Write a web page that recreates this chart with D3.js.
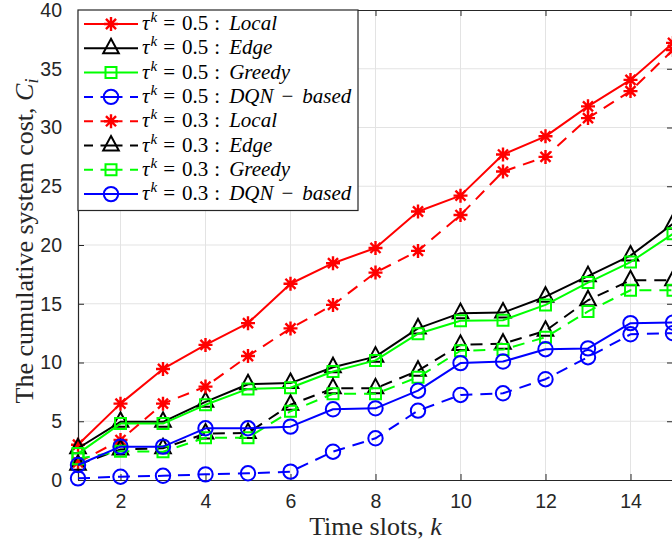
<!DOCTYPE html>
<html>
<head>
<meta charset="utf-8">
<script src="https://cdn.jsdelivr.net/npm/d3@7"></script>
<style>
  html, body { margin: 0; padding: 0; background: #fff; }
  svg { display: block; }
</style>
</head>
<body>
<svg id="chart" width="672" height="545"></svg>
<script>
// Time slots and cumulative system cost per scheme
const slots = [1, 2, 3, 4, 5, 6, 7, 8, 9, 10, 11, 12, 13, 14, 15];

const local05  = [3.0, 6.5, 9.45, 11.5, 13.35, 16.7, 18.45, 19.75, 22.85, 24.2, 27.7, 29.25, 31.8, 34.05, 37.2];
const edge05   = [2.7, 4.95, 4.95, 6.65, 8.15, 8.25, 9.6, 10.5, 12.9, 14.2, 14.25, 15.6, 17.35, 19.1, 21.8];
const greedy05 = [2.25, 4.8, 4.8, 6.4, 7.75, 7.85, 9.23, 10.18, 12.45, 13.55, 13.6, 14.9, 16.8, 18.55, 20.95];
const dqn05    = [0.14, 0.28, 0.36, 0.48, 0.57, 0.71, 2.41, 3.55, 5.9, 7.24, 7.38, 8.58, 10.45, 12.4, 12.5];
const local03  = [1.5, 3.4, 6.5, 7.95, 10.55, 12.9, 14.9, 17.65, 19.5, 22.55, 26.25, 27.5, 30.8, 33.1, 36.6];
const edge03   = [1.3, 2.6, 2.7, 3.95, 4.0, 6.4, 7.8, 7.8, 9.3, 11.5, 11.6, 12.7, 15.3, 17.0, 17.0];
const greedy03 = [1.8, 2.45, 2.4, 3.6, 3.6, 5.85, 7.33, 7.33, 8.75, 11.0, 11.1, 12.15, 14.35, 16.15, 16.15];
const dqn03    = [1.28, 2.84, 2.84, 4.4, 4.4, 4.54, 6.02, 6.1, 7.6, 9.95, 10.08, 11.13, 11.2, 13.35, 13.4];

const tauValues = ["0.5", "0.5", "0.5", "0.5", "0.3", "0.3", "0.3", "0.3"];
const schemeNames = ["Local", "Edge", "Greedy", "DQN-based", "Local", "Edge", "Greedy", "DQN-based"];

const xTicks = [2, 4, 6, 8, 10, 12, 14];
const yTicks = [0, 5, 10, 15, 20, 25, 30, 35, 40];

// Series in drawing order (later ones sit on top)
const series = [
  { values: local05,  color: "#ff0000", dashed: false, marker: "star" },
  { values: edge05,   color: "#000000", dashed: false, marker: "triangle" },
  { values: greedy05, color: "#00ff00", dashed: false, marker: "square" },
  { values: dqn05,    color: "#0000ff", dashed: true,  marker: "circle" },
  { values: local03,  color: "#ff0000", dashed: true,  marker: "star" },
  { values: edge03,   color: "#000000", dashed: true,  marker: "triangle" },
  { values: greedy03, color: "#00ff00", dashed: true,  marker: "square" },
  { values: dqn03,    color: "#0000ff", dashed: false, marker: "circle" }
].map((s, i) => ({ ...s, tau: tauValues[i], scheme: schemeNames[i] }));

const margin = { left: 78, top: 10, right: 673, bottom: 480 };
const x = d3.scaleLinear().domain([1, 15]).range([margin.left, margin.right]);
const y = d3.scaleLinear().domain([0, 40]).range([margin.bottom, margin.top]);

const svg = d3.select("#chart");
const axisColor = "#262626";
const gridColor = "#e3e3e3";

// Grid
const grid = svg.append("g");
grid.selectAll("line.gx").data(xTicks).join("line")
  .attr("x1", d => x(d)).attr("x2", d => x(d))
  .attr("y1", margin.top).attr("y2", margin.bottom)
  .attr("stroke", gridColor).attr("stroke-width", 1);
grid.selectAll("line.gy").data(yTicks.slice(1, -1)).join("line")
  .attr("x1", margin.left).attr("x2", margin.right)
  .attr("y1", d => y(d)).attr("y2", d => y(d))
  .attr("stroke", gridColor).attr("stroke-width", 1);

// Axes with inward ticks on all four sides
const tickFont = "'Liberation Sans', Arial, sans-serif";
const bottomAxis = svg.append("g").attr("transform", `translate(0,${margin.bottom})`)
  .call(d3.axisBottom(x).tickValues(xTicks).tickSizeInner(-6).tickSizeOuter(0).tickPadding(14));
const topAxis = svg.append("g").attr("transform", `translate(0,${margin.top})`)
  .call(d3.axisTop(x).tickValues(xTicks).tickSizeInner(-6).tickSizeOuter(0).tickFormat(""));
const leftAxis = svg.append("g").attr("transform", `translate(${margin.left},0)`)
  .call(d3.axisLeft(y).tickValues(yTicks).tickSizeInner(-6).tickSizeOuter(0).tickPadding(16));
const rightAxis = svg.append("g").attr("transform", `translate(${margin.right},0)`)
  .call(d3.axisRight(y).tickValues(yTicks).tickSizeInner(-6).tickSizeOuter(0).tickFormat(""));

[bottomAxis, topAxis, leftAxis, rightAxis].forEach(g => {
  g.select(".domain").attr("stroke", axisColor).attr("stroke-width", 1.2);
  g.selectAll(".tick line").attr("stroke", axisColor).attr("stroke-width", 1);
  g.selectAll(".tick text").attr("fill", axisColor)
    .style("font-family", tickFont).style("font-size", "19.5px");
});

// Markers
function markerPath(type) {
  switch (type) {
    case "star": {
      const r = 7, d = r * 0.72;
      return `M${-r},0L${r},0M0,${-r}L0,${r}M${-d},${-d}L${d},${d}M${-d},${d}L${d},${-d}`;
    }
    case "triangle":
      return "M0,-9.5L7.8,5L-7.8,5Z";
    case "square":
      return "M-5.5,-5.5H5.5V5.5H-5.5Z";
    case "circle":
      return "M7.2,0A7.2,7.2 0 1,1 -7.2,0A7.2,7.2 0 1,1 7.2,0Z";
  }
}

const dash = "12,8";
const line = d3.line().x((d, i) => x(slots[i])).y(d => y(d));

const plot = svg.append("g");
series.forEach(s => {
  const g = plot.append("g");
  g.append("path")
    .attr("d", line(s.values))
    .attr("fill", "none")
    .attr("stroke", s.color)
    .attr("stroke-width", 2)
    .attr("stroke-linejoin", "round")
    .attr("stroke-dasharray", s.dashed ? dash : null);
  g.selectAll("path.m").data(s.values).join("path")
    .attr("class", "m")
    .attr("transform", (d, i) => `translate(${x(slots[i])},${y(d)})`)
    .attr("d", markerPath(s.marker))
    .attr("fill", "none")
    .attr("stroke", s.color)
    .attr("stroke-width", s.marker === "star" ? 2.4 : 2);
});

// Legend
const serif = "'Liberation Serif', 'Times New Roman', serif";
const legend = svg.append("g");
legend.append("rect")
  .attr("x", 78).attr("y", 10).attr("width", 280).attr("height", 200.5)
  .attr("fill", "#fff").attr("stroke", axisColor).attr("stroke-width", 1.2);

series.forEach((s, i) => {
  const cy = 24 + i * 24.3;
  const row = legend.append("g").attr("transform", `translate(0,${cy})`);
  row.append("line")
    .attr("x1", 84).attr("x2", 138).attr("y1", 0).attr("y2", 0)
    .attr("stroke", s.color).attr("stroke-width", 2)
    .attr("stroke-dasharray", s.dashed ? "9,7.5,22,7.5,9" : null);
  row.append("path")
    .attr("transform", "translate(111,0)")
    .attr("d", markerPath(s.marker))
    .attr("fill", "none").attr("stroke", s.color)
    .attr("stroke-width", s.marker === "star" ? 2.4 : 2);

  const t = row.append("text")
    .attr("x", 142).attr("y", 6)
    .style("font-family", serif).style("font-size", "21px").attr("fill", "#000");
  t.append("tspan").style("font-style", "italic").text("τ");
  t.append("tspan").style("font-style", "italic").style("font-size", "15px")
    .attr("dx", 1).attr("dy", -8).text("k");
  t.append("tspan").attr("dx", 6).attr("dy", 8).text("=");
  t.append("tspan").attr("dx", 7).text(s.tau);
  t.append("tspan").attr("dx", 6).text(":");
  const parts = s.scheme.split("-");
  t.append("tspan").attr("dx", 9).style("font-style", "italic").text(parts[0]);
  if (parts.length > 1) {
    t.append("tspan").attr("dx", 8).text("\u2212");
    t.append("tspan").attr("dx", 9).style("font-style", "italic").text(parts[1]);
  }
});

// Axis titles
const xl = svg.append("text")
  .attr("x", (margin.left + margin.right) / 2).attr("y", 535)
  .attr("text-anchor", "middle")
  .style("font-family", serif).style("font-size", "26px").attr("fill", axisColor);
xl.append("tspan").text("Time slots, ");
xl.append("tspan").style("font-style", "italic").text("k");

const yl = svg.append("text")
  .attr("transform", "translate(33,241) rotate(-90)")
  .attr("text-anchor", "middle")
  .style("font-family", serif).style("font-size", "26px").attr("fill", axisColor);
yl.append("tspan").text("The cumulative system cost, ");
yl.append("tspan").style("font-style", "italic").text("C");
yl.append("tspan").style("font-style", "italic").style("font-size", "18px").attr("dy", 5).text("i");
</script>
</body>
</html>
